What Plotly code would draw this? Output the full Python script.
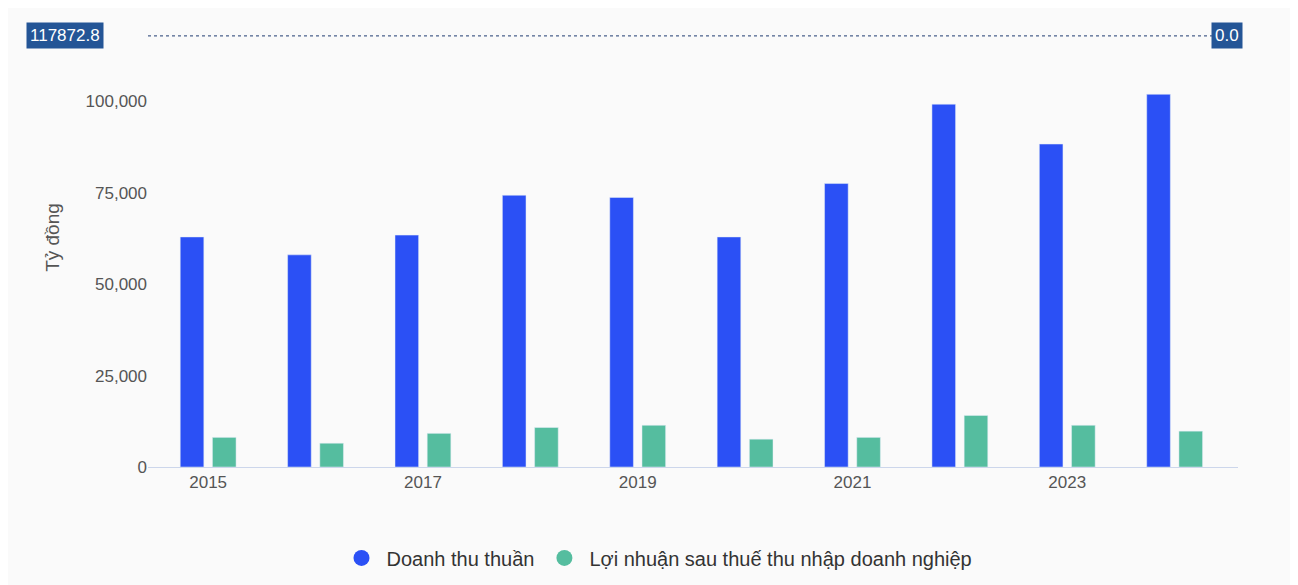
import plotly.graph_objects as go

years = [2015, 2016, 2017, 2018, 2019, 2020, 2021, 2022, 2023, 2024]
revenue = [62900, 58000, 63400, 74300, 73700, 62900, 77500, 99200, 88300, 101900]
profit = [8100, 6500, 9200, 10800, 11400, 7600, 8100, 14100, 11400, 9800]
tick_years = [2015, 2017, 2019, 2021, 2023]
cross_value = 117872.8
blue, green = "#2b50f5", "#55bd9f"

fig = go.Figure()
fig.add_bar(x=years, y=revenue, name="Doanh thu thuần", marker_color=blue, width=0.22, offset=-0.26, showlegend=False)
fig.add_bar(x=years, y=profit, name="Lợi nhuận sau thuế thu nhập doanh nghiệp", marker_color=green, width=0.22, offset=0.04, showlegend=False)
for nm, c in [("Doanh thu thuần", blue), ("Lợi nhuận sau thuế thu nhập doanh nghiệp", green)]:
    fig.add_scatter(x=[None], y=[None], mode="markers", name=nm, marker=dict(symbol="circle", size=22, color=c))

fig.add_shape(type="line", xref="paper", yref="y", x0=0, x1=1, y0=cross_value, y1=cross_value,
              line=dict(color="#1f3b70", width=1, dash="dot"))
fig.add_annotation(xref="paper", yref="y", x=-0.04, y=cross_value, text=f"{cross_value:.1f}", showarrow=False,
                   xanchor="right", bgcolor="#245596", font=dict(color="white", size=17), borderpad=3)
fig.add_annotation(xref="paper", yref="y", x=0.99, y=cross_value, text="0.0", showarrow=False,
                   xanchor="center", bgcolor="#245596", font=dict(color="white", size=17), borderpad=3)

fig.update_layout(
    width=1298, height=585, barmode="overlay",
    paper_bgcolor="#fafafa", plot_bgcolor="#fafafa",
    margin=dict(l=140, r=68, t=0, b=126, autoexpand=False),
    font=dict(family="Liberation Sans, Arial", size=17, color="#555"),
    legend=dict(orientation="h", x=0.5, xanchor="center", xref="container", yref="container",
                y=0.06, yanchor="middle", font=dict(size=20, color="#333"), itemwidth=40),
)
fig.update_xaxes(tickvals=tick_years, ticktext=[str(y) for y in tick_years], range=[2014.44, 2024.59],
                 showline=True, linecolor="#ccd6eb", showgrid=False, ticks="", tickfont=dict(size=17))
fig.update_yaxes(range=[0, 125500], tickvals=[0, 25000, 50000, 75000, 100000, 125000], tickformat=",",
                 showgrid=False, zeroline=False, title=dict(text="Tỷ đồng", font=dict(size=19), standoff=20),
                 tickfont=dict(size=17))
fig.write_html("out.html")
